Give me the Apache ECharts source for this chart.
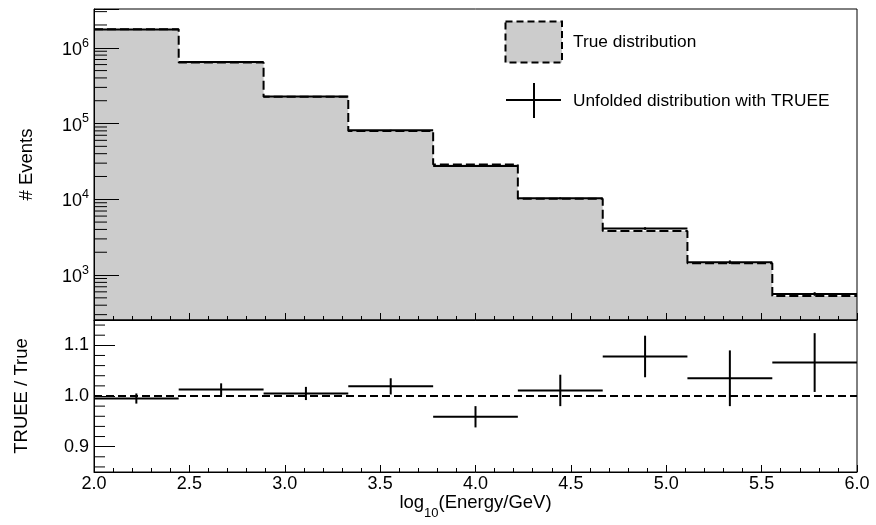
<!DOCTYPE html>
<html>
<head>
<meta charset="utf-8">
<title>TRUEE unfolding</title>
<script src="https://cdn.jsdelivr.net/npm/echarts@6/dist/echarts.min.js"></script>
<style>
    html, body { margin: 0; padding: 0; background: #fff; }
    #main { width: 876px; height: 525px; }
</style>
</head>
<body>
<div id="main"></div>
<script>
// bins in log10(Energy/GeV)
var binEdges = [2.0, 2.444, 2.889, 3.333, 3.778, 4.222, 4.667, 5.111, 5.556, 6.0];
// true distribution (dashed, filled)
var trueCounts = [1.75e6, 6.4e5, 2.26e5, 7.98e4, 2.88e4, 1.02e4, 3820, 1430, 528];
// unfolded distribution with TRUEE
var unfoldedCounts = [1.741e6, 6.48e5, 2.27e5, 8.13e4, 2.76e4, 1.03e4, 4120, 1480, 563];
var unfoldedErr = [1.75e4, 7.7e3, 2.9e3, 1.3e3, 600, 316, 157, 79, 31];
// ratio panel
var ratio = [0.995, 1.013, 1.005, 1.019, 0.959, 1.011, 1.078, 1.035, 1.066];
var ratioErr = [0.010, 0.012, 0.013, 0.016, 0.021, 0.031, 0.041, 0.055, 0.058];
var ratioMinorTicks = [0.86, 0.88, 0.92, 0.94, 0.96, 0.98, 1.02, 1.04, 1.06, 1.08, 1.12, 1.14];

var FONT = 'Liberation Sans, Arial, Helvetica, sans-serif';
var LABEL_SIZE = 18, TITLE_SIZE = 18.5;
var yLogMin = 255, yLogMax = 3.25e6;

// minor ticks of the log axis: 2..9 x 10^n
var logMinorTicks = [];
for (var e = 2; e <= 6; e++) {
    for (var k = 2; k <= 9; k++) {
        var v = k * Math.pow(10, e);
        if (v > yLogMin && v < yLogMax) logMinorTicks.push([2, v]);
    }
}

var stepData = binEdges.map(function (x, i) {
    return [x, trueCounts[Math.min(i, trueCounts.length - 1)]];
});

function crossData(vals, errs) {
    return vals.map(function (v, i) {
        var lo = binEdges[i], hi = binEdges[i + 1];
        return [(lo + hi) / 2, v, lo, hi, v - errs[i], v + errs[i]];
    });
}

function renderCross(params, api) {
    var l = api.coord([api.value(2), api.value(1)]);
    var r = api.coord([api.value(3), api.value(1)]);
    var b = api.coord([api.value(0), api.value(4)]);
    var t = api.coord([api.value(0), api.value(5)]);
    var st = { stroke: '#000', lineWidth: 2 };
    return {
        type: 'group',
        children: [
            { type: 'line', shape: { x1: l[0], y1: l[1], x2: r[0], y2: r[1] }, style: st },
            { type: 'line', shape: { x1: b[0], y1: b[1], x2: t[0], y2: t[1] }, style: st }
        ]
    };
}

function tickRenderer(len) {
    return function (params, api) {
        var p = api.coord([api.value(0), api.value(1)]);
        return {
            type: 'line',
            shape: { x1: p[0], y1: p[1], x2: p[0] + len, y2: p[1] },
            style: { stroke: '#000', lineWidth: 1 }
        };
    };
}

var axisBase = {
    z: 6,
    axisLine: { show: true, lineStyle: { color: '#000', width: 1 } },
    splitLine: { show: false },
    minorSplitLine: { show: false }
};

var chart = echarts.init(document.getElementById('main'));

var option = {
    animation: false,
    backgroundColor: '#fff',
    grid: [
        { left: 94, top: 9, width: 763, height: 311, show: true, borderColor: '#000', borderWidth: 1, backgroundColor: 'transparent', z: 10, outerBoundsMode: 'none' },
        { left: 94, top: 320, width: 763, height: 152, show: true, borderColor: '#000', borderWidth: 1, backgroundColor: 'transparent', z: 10, outerBoundsMode: 'none' }
    ],
    xAxis: [
        Object.assign({}, axisBase, {
            gridIndex: 0, type: 'value', min: 2, max: 6, interval: 0.5,
            axisTick: { inside: true, length: 7, lineStyle: { color: '#000' } },
            minorTick: { show: true, splitNumber: 5, length: 4, lineStyle: { color: '#000' } },
            axisLabel: { show: false }
        }),
        Object.assign({}, axisBase, {
            gridIndex: 1, type: 'value', min: 2, max: 6, interval: 0.5,
            axisTick: { inside: true, length: 7, lineStyle: { color: '#000' } },
            minorTick: { show: true, splitNumber: 5, length: 4, lineStyle: { color: '#000' } },
            axisLabel: {
                margin: 3, fontSize: LABEL_SIZE, color: '#000', fontFamily: FONT,
                formatter: function (v) { return v.toFixed(1); }
            },
            name: '{a|log}{s|10}{a|(Energy/GeV)}',
            nameLocation: 'middle',
            nameGap: 17,
            nameTextStyle: {
                rich: {
                    a: { fontSize: TITLE_SIZE, color: '#000', fontFamily: FONT, lineHeight: 26, verticalAlign: 'top' },
                    s: { fontSize: 13, color: '#000', fontFamily: FONT, lineHeight: 26, verticalAlign: 'bottom' }
                }
            }
        })
    ],
    yAxis: [
        Object.assign({}, axisBase, {
            gridIndex: 0, type: 'log', logBase: 10, min: yLogMin, max: yLogMax,
            axisTick: { inside: true, length: 25, lineStyle: { color: '#000' } },
            axisLabel: {
                margin: 5,
                formatter: function (v) {
                    var n = Math.log(v) / Math.LN10;
                    if (Math.abs(n - Math.round(n)) > 1e-6) return '';
                    return '{b|10}{s|' + Math.round(n) + '}';
                },
                rich: {
                    b: { fontSize: LABEL_SIZE, color: '#000', fontFamily: FONT, lineHeight: 22, verticalAlign: 'bottom' },
                    s: { fontSize: 12.5, color: '#000', fontFamily: FONT, lineHeight: 22, verticalAlign: 'top' }
                }
            },
            name: '# Events',
            nameLocation: 'middle',
            nameRotate: 90,
            nameGap: 58,
            nameTextStyle: { fontSize: TITLE_SIZE, color: '#000', fontFamily: FONT }
        }),
        Object.assign({}, axisBase, {
            gridIndex: 1, type: 'value', min: 0.85, max: 1.15, splitNumber: 3,
            axisTick: { inside: true, length: 21, lineStyle: { color: '#000' } },
            axisLabel: {
                margin: 5, fontSize: LABEL_SIZE, color: '#000', fontFamily: FONT,
                showMinLabel: false, showMaxLabel: false,
                formatter: function (v) {
                    if (Math.abs(v * 10 - Math.round(v * 10)) > 1e-6) return '';
                    return v.toFixed(1);
                }
            },
            name: 'TRUEE / True',
            nameLocation: 'middle',
            nameRotate: 90,
            nameGap: 63,
            nameTextStyle: { fontSize: TITLE_SIZE, color: '#000', fontFamily: FONT }
        })
    ],
    graphic: [
        { type: 'rect', z: 20, shape: { x: 505.5, y: 21.5, width: 56.5, height: 41 },
          style: { fill: '#cccccc', stroke: '#000', lineWidth: 2, lineDash: [7, 4] } },
        { type: 'text', z: 20, x: 573, y: 42,
          style: { text: 'True distribution', fontSize: 17.3, fontFamily: FONT, fill: '#000', verticalAlign: 'middle' } },
        { type: 'line', z: 20, shape: { x1: 506, y1: 100, x2: 561, y2: 100 }, style: { stroke: '#000', lineWidth: 2 } },
        { type: 'line', z: 20, shape: { x1: 534, y1: 83, x2: 534, y2: 118 }, style: { stroke: '#000', lineWidth: 2 } },
        { type: 'text', z: 20, x: 573, y: 101,
          style: { text: 'Unfolded distribution with TRUEE', fontSize: 17.3, fontFamily: FONT, fill: '#000', verticalAlign: 'middle' } }
    ],
    series: [
        {
            name: 'True distribution',
            type: 'line',
            xAxisIndex: 0, yAxisIndex: 0,
            step: 'end',
            symbol: 'none',
            data: stepData,
            lineStyle: { color: '#000', width: 2, type: [9, 4] },
            areaStyle: { color: '#cccccc', opacity: 1, origin: 'start' },
            z: 2
        },
        {
            name: 'Unfolded distribution with TRUEE',
            type: 'custom',
            xAxisIndex: 0, yAxisIndex: 0,
            encode: { x: 0, y: 1 },
            data: crossData(unfoldedCounts, unfoldedErr),
            renderItem: renderCross,
            z: 3
        },
        {
            type: 'custom',
            xAxisIndex: 0, yAxisIndex: 0,
            encode: { x: 0, y: 1 },
            data: logMinorTicks,
            renderItem: tickRenderer(13),
            silent: true,
            z: 7
        },
        {
            type: 'line',
            xAxisIndex: 1, yAxisIndex: 1,
            symbol: 'none',
            data: [[2, 1], [6, 1]],
            lineStyle: { color: '#000', width: 2, type: [8, 4] },
            z: 2
        },
        {
            type: 'custom',
            xAxisIndex: 1, yAxisIndex: 1,
            encode: { x: 0, y: 1 },
            data: crossData(ratio, ratioErr),
            renderItem: renderCross,
            z: 3
        },
        {
            type: 'custom',
            xAxisIndex: 1, yAxisIndex: 1,
            encode: { x: 0, y: 1 },
            data: ratioMinorTicks.map(function (v) { return [2, v]; }),
            renderItem: tickRenderer(11),
            silent: true,
            z: 7
        }
    ]
};

chart.setOption(option);
</script>
</body>
</html>
